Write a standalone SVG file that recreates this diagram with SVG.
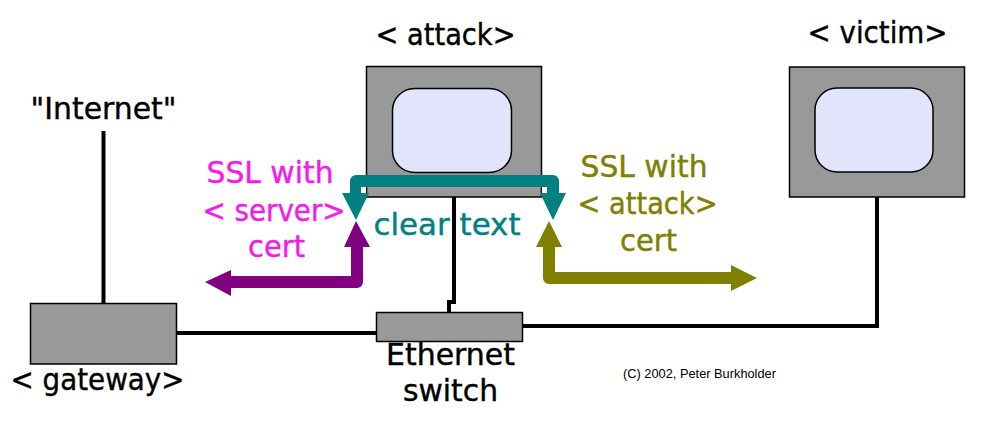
<svg xmlns="http://www.w3.org/2000/svg" width="985" height="446" viewBox="0 0 985 446">
<style>
text{font-family:"DejaVu Sans","Liberation Sans",sans-serif;font-size:30px;text-anchor:middle;fill:#000;stroke-width:.4}
.k{stroke:#000}
.m{fill:#f01ce8;stroke:#f01ce8}.o{fill:#808000;stroke:#808000}.t{fill:#008080;stroke:#008080}
.box{fill:#999;stroke:#000;stroke-width:1.5}
.scr{fill:#e2e4fb;stroke:#000;stroke-width:1.5}
.w{fill:none;stroke:#000;stroke-width:4}
.arrow{fill:none;stroke-width:12;stroke-linejoin:round}
.small{font-family:"Liberation Sans",Arial,sans-serif;font-size:12.800px;stroke:none}
</style>
<rect width="985" height="446" fill="#fff"/>
<g id="connectors-wires">
<path class="w" d="M103.500 131V303"/>
<path class="w" d="M176 333H377"/>
<path class="w" d="M522 326H877V197"/>
<path class="w" d="M454 197V302H449V312"/>
</g>
<g id="internet"><text class="k" x="103.500" y="119" textLength="146" lengthAdjust="spacingAndGlyphs">"Internet"</text></g>
<g id="gateway"><rect class="box" x="30.500" y="303.500" width="146" height="60.500"/><text class="k" x="97.500" y="390" textLength="174" lengthAdjust="spacingAndGlyphs">&lt; gateway&gt;</text></g>
<g id="attack"><rect class="box" x="366.500" y="66.500" width="175" height="130.500"/><rect class="scr" x="392.500" y="88.500" width="119" height="84" rx="22"/><text class="k" x="445.500" y="45" textLength="140" lengthAdjust="spacingAndGlyphs">&lt; attack&gt;</text></g>
<g id="victim"><rect class="box" x="789.500" y="67" width="175" height="130"/><rect class="scr" x="815" y="88" width="118" height="84" rx="22"/><text class="k" x="877.500" y="43" textLength="140" lengthAdjust="spacingAndGlyphs">&lt; victim&gt;</text></g>
<g id="switch"><rect class="box" x="376.500" y="312.500" width="146" height="29"/><text class="k" x="450.500" y="365" textLength="129" lengthAdjust="spacingAndGlyphs">Ethernet</text><text class="k" x="450.500" y="401" textLength="95" lengthAdjust="spacingAndGlyphs">switch</text></g>
<g id="connectors-ssl">
<path class="arrow" stroke="#008080" d="M356 195V181H553V195"/>
<path fill="#008080" d="M342 193H369L356 220ZM540 193H566L553 220Z"/>
<path fill="#fff" d="M361 187H366V193H361ZM542 187H547V193H542Z"/>
<path class="arrow" stroke="#800080" d="M357 245V282H229"/>
<path fill="#800080" d="M356 221L370 247H344ZM205 282L231 270V296Z"/>
<path class="arrow" stroke="#808000" d="M549 245V278H733"/>
<path fill="#808000" d="M549 221L562 247H536ZM757 278L731 265V291Z"/>
</g>
<g id="labels">
<text class="m" x="270" y="183" textLength="127" lengthAdjust="spacingAndGlyphs">SSL with</text><text class="m" x="274" y="221" textLength="143" lengthAdjust="spacingAndGlyphs">&lt; server&gt;</text><text class="m" x="276.500" y="257" textLength="57" lengthAdjust="spacingAndGlyphs">cert</text>
<text class="o" x="644" y="177" textLength="127" lengthAdjust="spacingAndGlyphs">SSL with</text><text class="o" x="647.500" y="214" textLength="140" lengthAdjust="spacingAndGlyphs">&lt; attack&gt;</text><text class="o" x="648.500" y="251" textLength="57" lengthAdjust="spacingAndGlyphs">cert</text>
<text class="t" x="447" y="235" textLength="147" lengthAdjust="spacingAndGlyphs">clear text</text>
<text class="small" x="699.500" y="378">(C) 2002, Peter Burkholder</text>
</g>
</svg>
